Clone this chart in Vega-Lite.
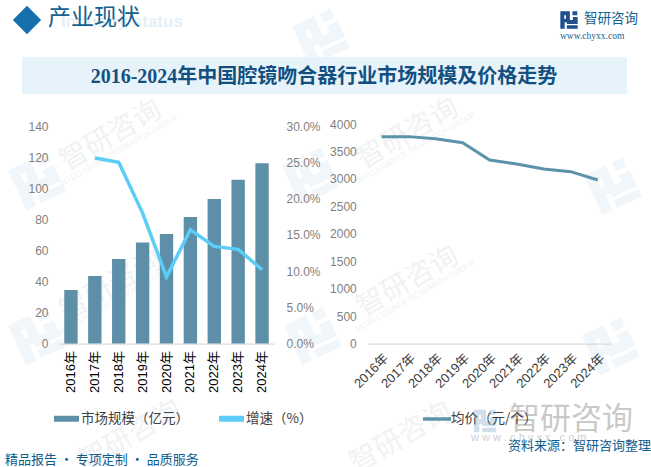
{
"$schema":"https://vega.github.io/schema/vega-lite/v6.json",
"padding":0,
"background":"white",
"bounds":"flush",
"spacing":0,
"config":{"view":{"stroke":null},"font":"Liberation Sans, Noto Sans CJK SC","concat":{"spacing":0}},
"datasets":{
"main":[
{"year":"2016年","size":34.5,"price":3770},
{"year":"2017年","size":43.5,"growth":0.256,"price":3770},
{"year":"2018年","size":54.5,"growth":0.25,"price":3733},
{"year":"2019年","size":65,"growth":0.18,"price":3660},
{"year":"2020年","size":70.5,"growth":0.092,"price":3345},
{"year":"2021年","size":81.5,"growth":0.157,"price":3272},
{"year":"2022年","size":93,"growth":0.134,"price":3180},
{"year":"2023年","size":105.5,"growth":0.13,"price":3132},
{"year":"2024年","size":116,"growth":0.102,"price":2980}
],
"wmText":[{"t":"智研咨询"}],
"wmSub":[{"t":"INTELLIGENCE RESEARCH GROUP"}],
"one":[{"k":1}],
"none":[]
},
"vconcat":[
{"width":651,"height":122.7,
"layer":[
{"data":{"name":"one"},"mark":{"type":"rect","x":0,"x2":651,"y":0,"y2":467,"fill":"white"},"encoding":{}},
{"data":{"name":"one"},"layer":[
{"mark":{"type":"point","x":36,"y":180,"angle":-25,"filled":true,"size":1900,"color":"#f1f6fa","opacity":1,"shape":"M-1,-1H0.1V0.25H-0.5V1H-1ZM-0.55,-0.55V-0.15H-0.35V-0.55ZM0.4,-1H0.95V-0.55H0.4ZM0.45,-0.35H1V0.45H-0.25V0H0.45ZM-0.25,0.6H1V1H-0.25Z"},"encoding":{}},
{"mark":{"type":"point","x":310,"y":175,"angle":-25,"filled":true,"size":1900,"color":"#f1f6fa","opacity":1,"shape":"M-1,-1H0.1V0.25H-0.5V1H-1ZM-0.55,-0.55V-0.15H-0.35V-0.55ZM0.4,-1H0.95V-0.55H0.4ZM0.45,-0.35H1V0.45H-0.25V0H0.45ZM-0.25,0.6H1V1H-0.25Z"},"encoding":{}},
{"mark":{"type":"point","x":612,"y":185,"angle":-25,"filled":true,"size":1900,"color":"#f1f6fa","opacity":1,"shape":"M-1,-1H0.1V0.25H-0.5V1H-1ZM-0.55,-0.55V-0.15H-0.35V-0.55ZM0.4,-1H0.95V-0.55H0.4ZM0.45,-0.35H1V0.45H-0.25V0H0.45ZM-0.25,0.6H1V1H-0.25Z"},"encoding":{}},
{"mark":{"type":"point","x":36,"y":335,"angle":-25,"filled":true,"size":1900,"color":"#f1f6fa","opacity":1,"shape":"M-1,-1H0.1V0.25H-0.5V1H-1ZM-0.55,-0.55V-0.15H-0.35V-0.55ZM0.4,-1H0.95V-0.55H0.4ZM0.45,-0.35H1V0.45H-0.25V0H0.45ZM-0.25,0.6H1V1H-0.25Z"},"encoding":{}},
{"mark":{"type":"point","x":312,"y":335,"angle":-25,"filled":true,"size":1900,"color":"#f1f6fa","opacity":1,"shape":"M-1,-1H0.1V0.25H-0.5V1H-1ZM-0.55,-0.55V-0.15H-0.35V-0.55ZM0.4,-1H0.95V-0.55H0.4ZM0.45,-0.35H1V0.45H-0.25V0H0.45ZM-0.25,0.6H1V1H-0.25Z"},"encoding":{}},
{"mark":{"type":"point","x":610,"y":345,"angle":-25,"filled":true,"size":1900,"color":"#f1f6fa","opacity":1,"shape":"M-1,-1H0.1V0.25H-0.5V1H-1ZM-0.55,-0.55V-0.15H-0.35V-0.55ZM0.4,-1H0.95V-0.55H0.4ZM0.45,-0.35H1V0.45H-0.25V0H0.45ZM-0.25,0.6H1V1H-0.25Z"},"encoding":{}},
{"mark":{"type":"point","x":320,"y":36,"angle":-25,"filled":true,"size":1900,"color":"#f1f6fa","opacity":1,"shape":"M-1,-1H0.1V0.25H-0.5V1H-1ZM-0.55,-0.55V-0.15H-0.35V-0.55ZM0.4,-1H0.95V-0.55H0.4ZM0.45,-0.35H1V0.45H-0.25V0H0.45ZM-0.25,0.6H1V1H-0.25Z"},"encoding":{}}
]},
{"data":{"name":"wmText"},"layer":[
{"mark":{"type":"text","x":110,"y":135,"angle":-30,"fontSize":28,"color":"#f0f2f4"},"encoding":{"text":{"field":"t"}}},
{"mark":{"type":"text","x":110,"y":285,"angle":-30,"fontSize":28,"color":"#f0f2f4"},"encoding":{"text":{"field":"t"}}},
{"mark":{"type":"text","x":407,"y":133,"angle":-30,"fontSize":28,"color":"#f0f2f4"},"encoding":{"text":{"field":"t"}}},
{"mark":{"type":"text","x":407,"y":281,"angle":-30,"fontSize":28,"color":"#f0f2f4"},"encoding":{"text":{"field":"t"}}},
{"mark":{"type":"text","x":130,"y":435,"angle":-30,"fontSize":28,"color":"#f0f2f4"},"encoding":{"text":{"field":"t"}}},
{"mark":{"type":"text","x":400,"y":437,"angle":-30,"fontSize":28,"color":"#f0f2f4"},"encoding":{"text":{"field":"t"}}}
]},
{"data":{"name":"wmSub"},"layer":[
{"mark":{"type":"text","x":118,"y":150,"angle":-30,"fontSize":8,"color":"#f0f2f4"},"encoding":{"text":{"field":"t"}}},
{"mark":{"type":"text","x":118,"y":298,"angle":-30,"fontSize":8,"color":"#f0f2f4"},"encoding":{"text":{"field":"t"}}},
{"mark":{"type":"text","x":415,"y":147,"angle":-30,"fontSize":8,"color":"#f0f2f4"},"encoding":{"text":{"field":"t"}}},
{"mark":{"type":"text","x":415,"y":295,"angle":-30,"fontSize":8,"color":"#f0f2f4"},"encoding":{"text":{"field":"t"}}}
]},
{"data":{"values":[{"t":"Industry status"}]},"mark":{"type":"text","x":60,"y":21,"align":"left","fontSize":17,"fontWeight":"bold","color":"#e6eff6"},"encoding":{"text":{"field":"t"}}},
{"data":{"name":"one"},"mark":{"type":"point","x":26,"y":19,"shape":"diamond","filled":true,"size":800,"color":"#1670ad","opacity":1},"encoding":{}},
{"data":{"values":[{"t":"产业现状"}]},"mark":{"type":"text","x":47,"y":17,"align":"left","fontSize":23,"font":"Noto Sans CJK SC","color":"#14608f"},"encoding":{"text":{"field":"t"}}},
{"data":{"name":"one"},"mark":{"type":"rule","x":2,"x2":549,"y":36,"y2":36,"stroke":"#0f6296","strokeWidth":1.2},"encoding":{}},
{"data":{"name":"one"},"mark":{"type":"point","x":568,"y":19,"filled":true,"size":300,"color":"#1f4f8f","opacity":1,"shape":"M-1,-1H0.1V0.25H-0.5V1H-1ZM-0.55,-0.55V-0.15H-0.35V-0.55ZM0.4,-1H0.95V-0.55H0.4ZM0.45,-0.35H1V0.45H-0.25V0H0.45ZM-0.25,0.6H1V1H-0.25Z"},"encoding":{}},
{"data":{"values":[{"t":"智研咨询"}]},"mark":{"type":"text","x":583,"y":18,"align":"left","fontSize":13.5,"font":"Noto Sans CJK SC","color":"#14608f"},"encoding":{"text":{"field":"t"}}},
{"data":{"values":[{"t":"www.chyxx.com"}]},"mark":{"type":"text","x":559,"y":35,"align":"left","fontSize":9.5,"font":"Liberation Serif","color":"#14608f"},"encoding":{"text":{"field":"t"}}},
{"data":{"name":"one"},"mark":{"type":"rect","x":21,"x2":626,"y":56,"y2":93,"fill":"#e6f3fb"},"encoding":{}},
{"data":{"values":[{"t":"2016-2024年中国腔镜吻合器行业市场规模及价格走势"}]},"mark":{"type":"text","x":323,"y":76,"fontSize":20,"fontWeight":"bold","font":"Liberation Serif, Noto Sans CJK SC","color":"#13507f"},"encoding":{"text":{"field":"t"}}},
{"data":{"name":"one"},"mark":{"type":"point","x":484,"y":420,"filled":true,"size":500,"color":"#cfe0ec","opacity":1,"shape":"M-1,-1H0.1V0.25H-0.5V1H-1ZM-0.55,-0.55V-0.15H-0.35V-0.55ZM0.4,-1H0.95V-0.55H0.4ZM0.45,-0.35H1V0.45H-0.25V0H0.45ZM-0.25,0.6H1V1H-0.25Z"},"encoding":{}},
{"data":{"values":[{"t":"智研咨询"}]},"mark":{"type":"text","x":508,"y":419,"align":"left","fontSize":31,"font":"Noto Sans CJK SC","color":"#c9c9c9"},"encoding":{"text":{"field":"t"}}},
{"data":{"values":[{"t":"w w w . c h y x x . c o m"}]},"mark":{"type":"text","x":470,"y":437,"align":"left","fontSize":11,"color":"#d0d0d0"},"encoding":{"text":{"field":"t"}}},
{"data":{"name":"one"},"mark":{"type":"rule","x":3,"x2":488,"y":444,"y2":444,"stroke":"#0f6296","strokeWidth":1.2},"encoding":{}},
{"data":{"values":[{"t":"资料来源：智研咨询整理"}]},"mark":{"type":"text","x":650,"y":445,"align":"right","fontSize":13,"font":"Noto Sans CJK SC","color":"#0f5c8f"},"encoding":{"text":{"field":"t"}}},
{"data":{"values":[{"t":"精品报告 · 专项定制 · 品质服务"}]},"mark":{"type":"text","x":4,"y":459,"align":"left","fontSize":13,"font":"Noto Sans CJK SC","color":"#0f5c8f"},"encoding":{"text":{"field":"t"}}}
]},
{"bounds":"flush","spacing":0,
"resolve":{"scale":{"stroke":"independent"}},
"hconcat":[
{"width":58,"height":10,"data":{"name":"none"},"mark":"rect","encoding":{}},
{"width":215,"height":219.6,"data":{"name":"main"},
"encoding":{"x":{"field":"year","type":"nominal","sort":null,"scale":{"paddingInner":0.44,"paddingOuter":0.22},"axis":{"title":null,"labelAngle":270,"labelFontSize":13,"labelColor":"#000000","labelPadding":7,"ticks":false,"domainColor":"#d9d9d9","domainWidth":1.2}}},
"layer":[
{"mark":{"type":"bar","fill":"#5d90a8","strokeWidth":0},
"encoding":{"y":{"field":"size","type":"quantitative","scale":{"domain":[0,141.3],"nice":false},"axis":{"title":null,"values":[0,20,40,60,80,100,120,140],"labelFontSize":12,"labelColor":"#7f7f7f","labelPadding":11,"ticks":false,"domain":false,"grid":false}},
"stroke":{"datum":"市场规模（亿元）","scale":{"domain":["市场规模（亿元）","增速（%）"],"range":["#5d90a8","#5bcdf7"]},"legend":{"title":null,"orient":"none","legendX":-8,"legendY":279,"direction":"horizontal","columns":2,"symbolType":"stroke","symbolSize":625,"symbolStrokeWidth":6,"labelFontSize":13.5,"labelColor":"#404040","labelFont":"Noto Sans CJK SC","columnPadding":18,"labelOffset":-1}}}},
{"mark":{"type":"line","strokeWidth":3.5,"clip":false},
"encoding":{"y":{"field":"growth","type":"quantitative","scale":{"domain":[0,0.3028],"nice":false},"axis":{"title":null,"orient":"right","format":".1%","values":[0,0.05,0.1,0.15,0.2,0.25,0.3],"labelFontSize":12,"labelColor":"#7f7f7f","labelPadding":12,"ticks":false,"domain":false,"grid":false}},
"stroke":{"datum":"增速（%）"}}}
],
"resolve":{"scale":{"y":"independent"},"axis":{"y":"independent"}}},
{"width":93.7,"height":10,"data":{"name":"none"},"mark":"rect","encoding":{}},
{"width":243.3,"height":219.6,"data":{"name":"main"},
"mark":{"type":"line","strokeWidth":3},
"encoding":{
"x":{"field":"year","type":"nominal","sort":null,"scale":{"type":"point","padding":0.5},"axis":{"title":null,"labelAngle":-45,"labelFontSize":13,"labelColor":"#404040","labelPadding":8,"ticks":false,"domainColor":"#d9d9d9","domainWidth":1.2}},
"y":{"field":"price","type":"quantitative","scale":{"domain":[0,4000]},"axis":{"title":null,"values":[0,500,1000,1500,2000,2500,3000,3500,4000],"format":"d","labelFontSize":12,"labelColor":"#7f7f7f","labelPadding":11.7,"ticks":false,"domain":false,"grid":false}},
"stroke":{"datum":"均价（元/个）","scale":{"domain":["均价（元/个）"],"range":["#5b93aa"]},"legend":{"title":null,"orient":"none","legendX":53,"legendY":279,"symbolType":"stroke","symbolSize":784,"symbolStrokeWidth":3.5,"labelFontSize":13.5,"labelColor":"#404040","labelFont":"Noto Sans CJK SC","labelOffset":-2}}
}}
]}
]
}
